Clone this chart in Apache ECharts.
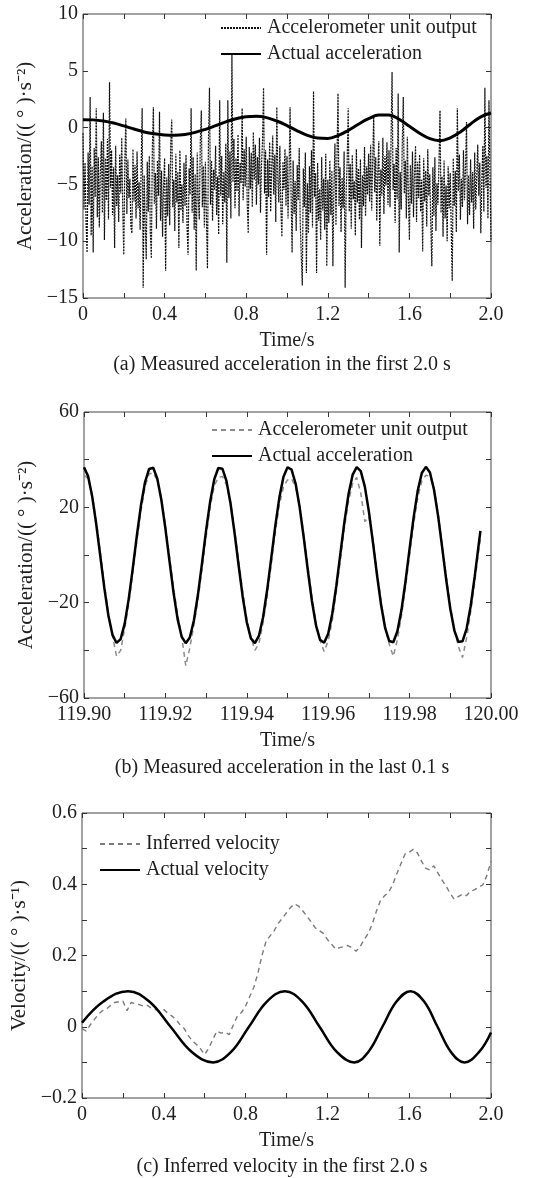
<!DOCTYPE html>
<html><head><meta charset="utf-8">
<script src="https://cdn.jsdelivr.net/npm/echarts/dist/echarts.min.js"></script>
<style>html,body{margin:0;padding:0;background:#fff}#c{width:536px;height:1178px}</style>
</head><body><div id="c"></div>
<script>
// ---------- (a) Measured acceleration in the first 2.0 s ----------
const accelOutput = [
-0.5,-7.2,-3.1,-8.4,-11.0,-2.2,-6.8,2.7,-9.5,-3.4,-11.0,-1.8,-6.1,1.7,-7.9,-2.6,-8.8,-4.0,-1.2,-7.5,
1.3,-9.9,-2.7,-6.4,-1.0,-8.1,4.0,-5.3,-2.0,-7.7,-3.5,-10.6,-1.6,-6.9,-4.2,-8.3,-2.4,-5.8,-0.9,-7.4,
-11.2,-3.0,0.8,-7.6,-2.8,-6.2,-4.5,-8.8,-9.3,-1.9,-6.5,-3.3,-8.0,-2.1,-7.1,-4.8,-9.0,-3.6,1.7,-14.1,
-4.2,-8.5,-11.6,-3.0,-7.4,-2.5,-9.2,-11.5,-1.8,1.8,-6.7,-4.0,-8.9,-2.9,-6.0,1.4,-8.2,-3.8,-9.6,-5.1,
-2.7,-12.6,-4.4,-7.8,-3.2,-8.6,-1.5,0.7,-7.0,-4.6,-9.1,-2.3,-6.6,-3.9,-10.6,-2.0,-7.3,-5.0,-8.4,-3.1,
-6.9,-2.4,-8.7,-11.2,-3.6,-5.9,1.7,-7.5,-2.6,-9.0,-4.1,-12.6,-2.2,-6.3,-8.1,-1.3,1.5,-7.0,-3.4,-8.8,
-3.0,-7.9,-12.4,-1.1,3.5,-6.8,-2.9,-8.2,-3.7,-5.5,-1.6,-7.7,-4.3,-9.4,2.4,-6.0,-2.5,-8.5,-3.9,-6.6,
-1.4,-11.9,2.4,-6.2,-2.1,-8.0,6.5,-4.8,-1.0,-7.1,-2.7,-5.6,-0.6,-7.8,-3.1,-4.9,1.7,-6.4,-1.9,-5.2,
-0.8,-6.7,-9.3,-1.7,-5.4,-2.2,-7.0,-0.4,-4.6,-1.5,-6.8,-2.6,-5.0,-0.9,-7.5,-3.3,-1.2,3.5,-5.8,-2.0,
-11.2,-2.8,-6.1,-1.3,-7.4,-3.5,-0.7,-5.9,-2.4,-8.3,1.8,-4.4,-6.6,-1.6,-7.2,-9.6,-3.0,-5.5,-1.9,-6.9,
-2.5,-8.0,-4.1,1.8,-6.0,-11.0,-2.9,-7.6,-4.7,-9.1,-3.3,-6.4,-1.8,-8.5,-11.3,-13.9,-3.6,-7.0,-2.2,-12.8,
-4.9,-9.3,-3.4,-7.5,-2.0,-8.8,3.2,-6.1,-4.0,-12.8,-3.1,-8.2,-5.4,-9.9,-2.6,-7.3,-4.5,-9.0,-2.3,-12.2,
-4.6,-8.4,-2.9,-7.7,-3.8,-12.2,-5.2,-1.4,-8.6,-2.7,3.0,-6.9,-3.5,-9.2,-4.4,-7.1,-2.1,-14.1,-5.6,-3.0,
1.7,-7.4,-3.2,-8.9,-2.4,-6.3,-4.7,-9.5,-1.9,-6.6,-3.6,-8.1,-2.8,-10.6,-4.2,-6.9,-1.7,-7.8,-3.4,-5.9,
-2.3,-6.5,-1.5,-7.3,-3.0,1.1,-5.7,-2.6,-8.2,-4.0,-1.2,-10.4,-3.7,-6.0,-0.9,-7.6,-2.5,-5.1,-1.3,-6.8,
-2.0,-7.0,-1.1,4.9,-5.5,-3.2,-8.4,-1.8,-6.3,3.0,-11.0,-3.9,-7.2,-1.5,2.7,-5.8,-2.9,-8.0,-0.8,-6.1,
-9.9,-3.3,-6.7,-2.1,-7.9,-4.0,-1.6,-8.3,-3.0,-6.2,-2.4,-7.4,-4.6,-10.9,-2.7,-6.5,-3.8,-8.7,-1.9,-6.0,
-4.1,-8.6,-12.2,-3.5,-7.8,-2.6,-9.1,-4.9,-6.8,-3.2,1.5,-7.5,-4.3,-9.6,-2.9,-8.0,-5.1,-10.0,-3.4,-7.1,
-4.0,-8.8,-13.5,-2.7,-6.9,-3.8,-9.2,1.7,-5.6,-2.4,-8.1,-4.5,-7.0,-2.0,-6.4,-3.6,0.5,-8.5,-4.2,-7.7,
-2.8,-6.6,-3.9,-8.9,-2.2,-7.2,-4.4,-1.5,-6.0,-3.1,-9.3,-4.8,-1.6,-7.4,3.5,-5.3,-2.5,-8.0,2.4,-3.7,
-10.0
];
const accelActualT = [0,0.05,0.10,0.15,0.20,0.25,0.30,0.35,0.40,0.45,0.50,0.55,0.60,0.65,0.70,0.75,0.80,0.85,0.90,0.95,1.00,1.05,1.10,1.15,1.20,1.25,1.30,1.35,1.40,1.45,1.50,1.55,1.60,1.65,1.70,1.75,1.80,1.85,1.90,1.95,2.00];
const accelActual  = [0.70,0.68,0.58,0.40,0.15,-0.12,-0.38,-0.55,-0.65,-0.67,-0.60,-0.42,-0.15,0.17,0.50,0.78,0.95,1.00,0.88,0.58,0.18,-0.28,-0.68,-0.92,-0.95,-0.70,-0.25,0.30,0.78,1.10,1.10,0.72,0.12,-0.49,-0.97,-1.15,-0.90,-0.38,0.32,0.95,1.28];

// ---------- (b) Measured acceleration in the last 0.1 s ----------
const bStart = 119.9, bStep = 0.001;
const lastActual = [
36.8,33.1,24.7,13.0,-0.5,-13.9,-25.5,-33.5,-36.9,-35.3,-28.8,-18.3,-5.4,8.3,20.9,30.6,36.1,
36.6,32.1,23.2,11.1,-2.5,-15.8,-26.9,-34.3,-37.0,-34.6,-27.5,-16.6,-3.4,10.3,22.5,31.7,36.5,
36.2,31.1,21.6,9.2,-4.5,-17.6,-28.2,-35.0,-37.0,-33.8,-26.1,-14.7,-1.4,12.2,24.1,32.7,36.8,
35.8,29.9,19.9,7.2,-6.5,-19.3,-29.5,-35.6,-36.8,-33.0,-24.6,-12.9,0.7,14.1,25.6,33.6,36.9,
35.2,28.7,18.2,5.2,-8.5,-21.0,-30.7,-36.1,-36.6,-32.0,-23.1,-11.0,2.7,15.9,27.0,34.4,37.0,
34.6,27.4,16.4,3.2,-10.4,-22.6,-31.7,-36.5,-36.2,-31.0,-21.5,-9.0,4.7
];
const lastOutput = [
33.5,32.0,25.5,14.5,1.5,-12.0,-24.5,-34.0,-42.5,-40.0,-31.0,-20.5,-7.5,6.0,18.5,28.5,34.0,
34.5,31.5,24.0,12.5,-0.5,-13.5,-25.0,-34.0,-46.5,-39.0,-29.5,-19.0,-6.0,7.5,20.0,29.0,32.5,
33.0,29.5,22.5,10.5,-2.5,-15.5,-27.0,-34.5,-40.0,-37.0,-28.5,-17.5,-4.0,9.5,21.0,28.5,31.5,
32.0,28.5,20.5,8.5,-4.5,-17.5,-28.5,-36.0,-40.5,-36.0,-27.5,-15.5,-2.0,11.5,22.5,30.0,32.5,
26.0,14.0,16.0,6.5,-7.0,-19.5,-30.0,-37.5,-42.5,-35.5,-25.5,-13.5,0.0,13.0,24.0,31.0,33.5,
33.0,28.0,17.5,4.5,-9.0,-21.5,-31.0,-38.5,-43.0,-35.0,-24.0,-11.5,2.0
];
const lastTailT = 119.9974, lastTailActual = 10.1, lastTailOutput = 6.5;

// ---------- (c) Inferred velocity in the first 2.0 s ----------
const velInferred = [
-0.005,-0.012,0.005,0.020,0.035,0.045,0.050,0.060,0.068,0.070,0.072,0.045,0.068,0.065,0.062,0.058,0.060,0.052,0.048,0.045,
0.048,0.038,0.030,0.020,0.005,-0.005,-0.025,-0.040,-0.050,-0.062,-0.078,-0.060,-0.035,-0.012,-0.018,-0.015,-0.022,0.005,0.030,0.040,
0.058,0.085,0.110,0.150,0.200,0.240,0.255,0.270,0.290,0.305,0.320,0.335,0.345,0.338,0.325,0.310,0.295,0.278,0.270,0.262,
0.245,0.232,0.218,0.222,0.225,0.228,0.222,0.212,0.225,0.245,0.262,0.290,0.325,0.355,0.368,0.378,0.400,0.430,0.458,0.485,
0.490,0.498,0.488,0.465,0.445,0.440,0.452,0.432,0.412,0.395,0.375,0.358,0.365,0.372,0.368,0.380,0.385,0.392,0.398,0.425,
0.465
];
const velActualT = [0,0.1045,0.225,0.329,0.433,0.537,0.641,0.729,0.8165,0.904,0.992,1.077,1.1615,1.246,1.331,1.400,1.469,1.538,1.607,1.673,1.7385,1.804,1.870,1.942,2.0];
const velActual  = [0.011,0.0707,0.1,0.0707,0,-0.0707,-0.1,-0.0707,0,0.0707,0.1,0.0707,0,-0.0707,-0.1,-0.0707,0,0.0707,0.1,0.0707,0,-0.0707,-0.1,-0.0707,-0.016];

const LEG = {
  a_out: 'Accelerometer unit output', a_act: 'Actual acceleration',
  b_out: 'Accelerometer unit output', b_act: 'Actual acceleration',
  c_inf: 'Inferred velocity', c_act: 'Actual velocity'
};

// ---------- build ----------
const FONT = '"Liberation Serif","Times New Roman",serif';
const TXT = '#1e1e1e';
const minus = s => s.replace('-', '\u2212');
const fmtAX = v => { const n = Math.round(v * 10); if (n % 4 !== 0) return ''; return n === 0 ? '0' : (n / 10).toFixed(1); };
const fmtAY = v => minus(String(Math.round(v)));
const fmtBX = v => { const n = Math.round(v * 100); if (n % 2 !== 0) return ''; return (n / 100).toFixed(2); };
const fmtBY = v => { const n = Math.round(v); if (((n + 60) % 40) !== 0) return ''; return minus(String(n)); };
const fmtCY = v => { const n = Math.round(v * 10); if (n % 2 !== 0) return ''; if (n === 0) return '0'; return minus((n / 10).toFixed(1)); };

const tick = { show: true, inside: true, length: 5, lineStyle: { color: '#333', width: 1 } };
const lbl = (fmt, margin) => ({ show: true, formatter: fmt, margin: margin, fontFamily: FONT, fontSize: 20, color: TXT, showMinLabel: true, showMaxLabel: true });
function xAxes(g, min, max, iv, fmt, name) {
  return [
    { type: 'value', gridIndex: g, min, max, interval: iv, position: 'bottom',
      axisLine: { show: false, onZero: false }, axisTick: tick, axisLabel: lbl(fmt, 7), splitLine: { show: false },
      name: name, nameLocation: 'middle', nameGap: 33, nameTextStyle: { fontFamily: FONT, fontSize: 20, color: TXT } },
    { type: 'value', gridIndex: g, min, max, interval: iv, position: 'top',
      axisLine: { show: false, onZero: false }, axisTick: tick, axisLabel: { show: false }, splitLine: { show: false } }
  ];
}
function yAxes(g, min, max, iv, fmt, name) {
  return [
    { type: 'value', gridIndex: g, min, max, interval: iv, position: 'left',
      axisLine: { show: false, onZero: false }, axisTick: tick, axisLabel: lbl(fmt, 5), splitLine: { show: false },
      name: name, nameLocation: 'middle', nameGap: 45, nameTextStyle: { fontFamily: FONT, fontSize: 21, color: TXT } },
    { type: 'value', gridIndex: g, min, max, interval: iv, position: 'right',
      axisLine: { show: false, onZero: false }, axisTick: tick, axisLabel: { show: false }, splitLine: { show: false } }
  ];
}

const nA = accelOutput.length;
const aOutData = accelOutput.map((v, i) => [i * 2 / (nA - 1), v]);
const aActData = accelActual.map((v, i) => [accelActualT[i], v]);
const bActData = lastActual.map((v, i) => [bStart + i * bStep, v]).concat([[lastTailT, lastTailActual]]);
const bOutData = lastOutput.map((v, i) => [bStart + i * bStep, v]).concat([[lastTailT, lastTailOutput]]);
const nC = velInferred.length;
const cInfData = velInferred.map((v, i) => [i * 2 / (nC - 1), v]);
const cActData = velActual.map((v, i) => [velActualT[i], v]);

const legendBase = (left, top, data) => ({
  orient: 'vertical', left, top, itemWidth: 40, itemHeight: 14, itemGap: 6, padding: 0,
  selectedMode: false, data, formatter: n => LEG[n],
  itemStyle: { opacity: 0 },
  textStyle: { fontFamily: FONT, fontSize: 20, color: TXT, padding: [0, 0, 0, 1] }
});
const caption = (x, y, text) => ({ type: 'text', x, y, style: { text, font: '20px ' + FONT, fill: TXT, textAlign: 'center', textVerticalAlign: 'middle' } });

const option = {
  animation: false,
  backgroundColor: '#fff',
  grid: [
    { left: 83, top: 14, width: 408, height: 284, show: true, borderColor: '#444', borderWidth: 1, backgroundColor: 'transparent' },
    { left: 84, top: 412, width: 407, height: 286, show: true, borderColor: '#444', borderWidth: 1, backgroundColor: 'transparent' },
    { left: 82, top: 813, width: 409, height: 285, show: true, borderColor: '#444', borderWidth: 1, backgroundColor: 'transparent' }
  ],
  xAxis: [].concat(
    xAxes(0, 0, 2, 0.2, fmtAX, 'Time/s'),
    xAxes(1, 119.9, 120.0, 0.01, fmtBX, 'Time/s'),
    xAxes(2, 0, 2, 0.2, fmtAX, 'Time/s')
  ),
  yAxis: [].concat(
    yAxes(0, -15, 10, 5, fmtAY, 'Acceleration/(( \u00b0 )\u00b7s\u207b\u00b2)'),
    yAxes(1, -60, 60, 20, fmtBY, 'Acceleration/(( \u00b0 )\u00b7s\u207b\u00b2)'),
    yAxes(2, -0.2, 0.6, 0.1, fmtCY, 'Velocity/(( \u00b0 )\u00b7s\u207b\u00b9)')
  ),
  legend: [
    legendBase(220, 18, ['a_out', 'a_act']),
    legendBase(211, 420, ['b_out', 'b_act']),
    legendBase(99, 834, ['c_inf', 'c_act'])
  ],
  graphic: [
    caption(282, 365, '(a) Measured acceleration in the first 2.0 s'),
    caption(282, 768, '(b) Measured acceleration in the last 0.1 s'),
    caption(282, 1167, '(c) Inferred velocity in the first 2.0 s')
  ],
  series: [
    { name: 'a_out', type: 'line', xAxisIndex: 0, yAxisIndex: 0, data: aOutData, symbol: 'none', z: 2,
      itemStyle: { color: '#111' }, lineStyle: { color: '#111', width: 1.2, type: [2, 1] } },
    { name: 'a_act', type: 'line', xAxisIndex: 0, yAxisIndex: 0, data: aActData, symbol: 'none', smooth: 0.4, z: 3,
      itemStyle: { color: '#000' }, lineStyle: { color: '#000', width: 3 } },
    { name: 'b_out', type: 'line', xAxisIndex: 2, yAxisIndex: 2, data: bOutData, symbol: 'none', z: 2,
      itemStyle: { color: '#8c8c8c' }, lineStyle: { color: '#8c8c8c', width: 1.5, type: [5, 4] } },
    { name: 'b_act', type: 'line', xAxisIndex: 2, yAxisIndex: 2, data: bActData, symbol: 'none', z: 3,
      itemStyle: { color: '#000' }, lineStyle: { color: '#000', width: 2.5 } },
    { name: 'c_inf', type: 'line', xAxisIndex: 4, yAxisIndex: 4, data: cInfData, symbol: 'none', z: 2,
      itemStyle: { color: '#7a7a7a' }, lineStyle: { color: '#7a7a7a', width: 1.4, type: [5, 4] } },
    { name: 'c_act', type: 'line', xAxisIndex: 4, yAxisIndex: 4, data: cActData, symbol: 'none', smooth: 0.4, z: 3,
      itemStyle: { color: '#000' }, lineStyle: { color: '#000', width: 2.5 } }
  ]
};
const chart = echarts.init(document.getElementById('c'), null, { renderer: 'canvas' });
chart.setOption(option);
</script></body></html>
